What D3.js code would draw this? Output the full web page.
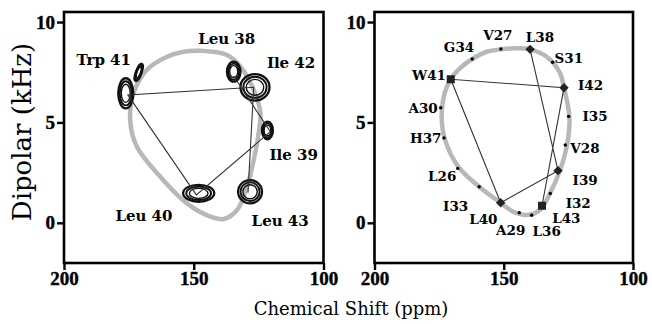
<!DOCTYPE html>
<html>
<head>
<meta charset="utf-8">
<script src="https://cdn.jsdelivr.net/npm/d3@7/dist/d3.min.js"></script>
<style>
  body { margin: 0; background: #fff; }
  svg { display: block; }
</style>
</head>
<body>
<svg id="chart" width="652" height="324"></svg>
<script>
// ---- axis ticks ----
const shiftTicks = [200, 150, 100];
const dipolarTicks = [0, 5, 10];

// ---- left panel: separated-local-field spectrum of the TM peptide ----
// resolved peaks: centre (ppm, kHz), half widths (ppm, kHz), tilt (deg)
const peakName     = ["Trp 41", "Trp 41 side", "Leu 38", "Ile 42", "Ile 39", "Leu 40", "Leu 43"];
const peakShift    = [176.2, 171.2, 134.6, 126.4, 121.6, 148.1, 128.3];
const peakDipolar  = [6.45, 7.49, 7.53, 6.75, 4.60, 1.47, 1.55];
const peakHalfPpm  = [2.9, 1.1, 2.6, 5.6, 2.1, 6.0, 4.6];
const peakHalfKHz  = [0.75, 0.45, 0.50, 0.66, 0.44, 0.42, 0.58];
const peakTilt     = [0, 20, 0, 0, 0, 0, 0];

// sequential assignment walk, residues 38 -> 43
const leftWalkShift   = [134.6, 120.5, 149.0, 175.4, 126.9, 129.1];
const leftWalkDipolar = [7.31, 4.54, 1.39, 6.37, 6.75, 1.50];

// residue labels
const leftLabel        = ["Trp 41", "Leu 38", "Ile 42", "Ile 39", "Leu 40", "Leu 43"];
const leftLabelShift   = [184.7, 137.3, 112.5, 111.5, 169.2, 116.7];
const leftLabelDipolar = [8.11, 9.16, 7.96, 3.38, 0.36, 0.13];

// PISA wheel fitted to the spectrum
const leftWheelShift   = [147.5, 137.2, 132.0, 126.9, 124.3, 125.0, 126.9, 129.5, 133.3, 138.5,
                          143.6, 152.6, 162.9, 171.9, 174.5, 173.2, 168.1, 160.3, 153.9];
const leftWheelDipolar = [8.57, 8.36, 7.78, 6.62, 5.46, 4.46, 3.13, 1.80, 0.64, 0.19,
                          0.31, 0.97, 2.30, 3.79, 5.12, 6.45, 7.61, 8.27, 8.52];

// ---- right panel: simulated helical wheel resonances ----
const resName    = ["W41", "L38", "I42", "I39", "L43", "L40",
                    "V27", "G34", "S31", "A30", "I35", "H37", "V28", "L26", "I33", "I32", "A29", "L36"];
const resShift   = [170.5, 139.8, 126.7, 129.0, 135.2, 151.2,
                    151.1, 162.2, 131.1, 174.4, 124.9, 173.1, 126.2, 167.8, 159.5, 132.0, 144.0, 139.2];
const resDipolar = [7.15, 8.64, 6.73, 2.60, 0.85, 1.00,
                    8.66, 8.16, 8.00, 5.73, 5.30, 4.23, 3.88, 2.71, 1.80, 1.46, 0.50, 0.38];
const resMarker  = ["square", "diamond", "diamond", "diamond", "square", "diamond",
                    "dot", "dot", "dot", "dot", "dot", "dot", "dot", "dot", "dot", "dot", "dot", "dot"];
const resLabelShift   = [178.9, 136.0, 116.4, 118.5, 125.8, 157.9,
                         152.3, 167.3, 124.8, 181.2, 114.7, 180.2, 118.6, 173.8, 168.6, 121.2, 147.3, 133.4];
const resLabelDipolar = [7.36, 9.27, 6.88, 2.13, 0.21, 0.19,
                         9.37, 8.77, 8.21, 5.72, 5.29, 4.23, 3.74, 2.35, 0.85, 1.00, -0.36, -0.39];

const rightWalk = ["L38", "I39", "L40", "W41", "I42", "L43"];

const rightWheelShift   = [145.6, 139.8, 133.4, 128.2, 126.7, 124.6, 125.4, 128.2, 132.1, 136.0,
                           141.1, 146.3, 151.2, 159.5, 167.6, 172.7, 174.0, 172.7, 170.5, 166.9,
                           162.2, 156.6, 151.1];
const rightWheelDipolar = [8.69, 8.64, 8.27, 7.45, 6.73, 5.29, 3.96, 2.63, 1.47, 0.64,
                           0.39, 0.55, 1.00, 1.80, 2.80, 4.13, 5.29, 6.53, 7.15, 7.70,
                           8.16, 8.52, 8.64];

// ---- layout ----
const svg = d3.select("#chart");
const plotTop = 12, plotBottom = 263;
const panels = [
  { x0: 64, x1: 323.5 },
  { x0: 374.5, x1: 633 }
];
const y = d3.scaleLinear().domain([-2, 10.5]).range([plotBottom, plotTop]);
const xs = panels.map(p => d3.scaleLinear().domain([200, 100]).range([p.x0, p.x1]));

const wheelColor = "#b8b8b8";
const labelFont = "'DejaVu Serif', serif";
const tickFont = "'Liberation Serif', 'Times New Roman', serif";

function drawFrame(x) {
  const g = svg.append("g");
  const ya = g.append("g")
    .attr("transform", `translate(${x.range()[0]},0)`)
    .call(d3.axisLeft(y).tickValues(dipolarTicks).tickFormat(d3.format("d")).tickSize(7).tickPadding(2));
  const xa = g.append("g")
    .attr("transform", `translate(0,${plotBottom})`)
    .call(d3.axisBottom(x).tickValues(shiftTicks).tickFormat(d3.format("d")).tickSize(7).tickPadding(2));
  [ya, xa].forEach(a => {
    a.select(".domain").remove();
    a.selectAll(".tick line").attr("stroke", "#000").attr("stroke-width", 2.4);
    a.selectAll(".tick text")
      .attr("fill", "#000")
      .attr("stroke", "#000")
      .attr("stroke-width", 0.4)
      .style("font-family", tickFont)
      .style("font-weight", "bold")
      .style("font-size", "19px");
  });
  g.append("rect")
    .attr("x", x.range()[0]).attr("y", plotTop)
    .attr("width", x.range()[1] - x.range()[0]).attr("height", plotBottom - plotTop)
    .attr("fill", "none").attr("stroke", "#000").attr("stroke-width", 2.6);
}

function drawWheel(x, shifts, dips) {
  const pts = shifts.map((s, i) => [s, dips[i]]);
  svg.append("path")
    .datum(pts)
    .attr("d", d3.line().x(d => x(d[0])).y(d => y(d[1])).curve(d3.curveCatmullRomClosed.alpha(0.5)))
    .attr("fill", "none")
    .attr("stroke", wheelColor)
    .attr("stroke-width", 4.5);
}

function drawWalk(x, pts) {
  svg.append("path")
    .datum(pts)
    .attr("d", d3.line().x(d => x(d[0])).y(d => y(d[1])))
    .attr("fill", "none")
    .attr("stroke", "#333")
    .attr("stroke-width", 1.1);
}

// ---- left panel ----
const xL = xs[0];
drawWheel(xL, leftWheelShift, leftWheelDipolar);

// contour rings for each peak
const levels = [1, 0.8, 0.6];
const levelWidth = [2.3, 1.9, 1.4];
peakName.forEach((name, i) => {
  const cx = xL(peakShift[i]), cy = y(peakDipolar[i]);
  const rx = Math.abs(xL(peakShift[i] + peakHalfPpm[i]) - cx);
  const ry = Math.abs(y(peakDipolar[i] + peakHalfKHz[i]) - cy);
  const g = svg.append("g").attr("transform", `rotate(${peakTilt[i]},${cx},${cy})`);
  levels.forEach((f, k) => {
    g.append("ellipse")
      .attr("cx", cx).attr("cy", cy)
      .attr("rx", rx * f).attr("ry", ry * f)
      .attr("fill", "none").attr("stroke", "#111")
      .attr("stroke-width", levelWidth[k]);
  });
});

drawWalk(xL, leftWalkShift.map((s, i) => [s, leftWalkDipolar[i]]));

svg.append("g").selectAll("text")
  .data(leftLabel)
  .join("text")
  .attr("x", (d, i) => xL(leftLabelShift[i]))
  .attr("y", (d, i) => y(leftLabelDipolar[i]))
  .attr("dy", "0.36em")
  .attr("text-anchor", "middle")
  .style("font-family", labelFont)
  .style("font-weight", "bold")
  .style("font-size", "15px")
  .text(d => d);

drawFrame(xL);

// ---- right panel ----
const xR = xs[1];
drawWheel(xR, rightWheelShift, rightWheelDipolar);

const idx = name => resName.indexOf(name);
drawWalk(xR, rightWalk.map(n => [resShift[idx(n)], resDipolar[idx(n)]]));

const marks = svg.append("g");
resName.forEach((name, i) => {
  const cx = xR(resShift[i]), cy = y(resDipolar[i]);
  if (resMarker[i] === "dot") {
    marks.append("circle").attr("cx", cx).attr("cy", cy).attr("r", 1.7).attr("fill", "#000");
  } else if (resMarker[i] === "square") {
    marks.append("path")
      .attr("d", d3.symbol(d3.symbolSquare, 64)())
      .attr("transform", `translate(${cx},${cy})`)
      .attr("fill", "#222");
  } else {
    marks.append("path")
      .attr("d", d3.symbol(d3.symbolSquare, 44)())
      .attr("transform", `translate(${cx},${cy}) rotate(45)`)
      .attr("fill", "#222");
  }
});

svg.append("g").selectAll("text")
  .data(resName)
  .join("text")
  .attr("x", (d, i) => xR(resLabelShift[i]))
  .attr("y", (d, i) => y(resLabelDipolar[i]))
  .attr("dy", "0.36em")
  .attr("text-anchor", "middle")
  .style("font-family", labelFont)
  .style("font-weight", "bold")
  .style("font-size", "13.5px")
  .text(d => d);

drawFrame(xR);

// ---- axis titles ----
svg.append("text")
  .attr("x", 351).attr("y", 315)
  .attr("text-anchor", "middle")
  .style("font-family", labelFont)
  .style("font-size", "18px")
  .text("Chemical Shift (ppm)");

svg.append("text")
  .attr("transform", "translate(31,132) rotate(-90)")
  .attr("text-anchor", "middle")
  .style("font-family", labelFont)
  .style("font-size", "26px")
  .text("Dipolar (kHz)");
</script>
</body>
</html>
